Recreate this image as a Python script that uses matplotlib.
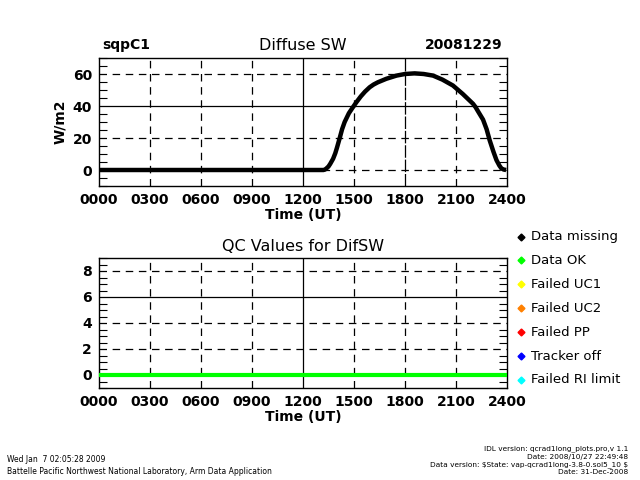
import matplotlib
matplotlib.use("Agg")
import matplotlib.pyplot as plt
from matplotlib.ticker import MultipleLocator

# diffuse SW (W/m2) vs time of day (hours UT)
dif_hours = [0.0, 6.0, 12.0, 13.2, 13.3, 13.38, 13.5, 13.6, 13.77, 13.9, 14.0, 14.16, 14.3,
             14.45, 14.7, 14.94, 15.15, 15.4, 15.65, 15.92, 16.15, 16.4, 16.9, 17.5,
             18.0, 18.57, 19.1, 19.65, 20.2, 20.82, 21.4, 22.0, 22.15, 22.3, 22.59,
             22.8, 22.98, 23.2, 23.38, 23.55, 23.67, 23.8, 23.95]
dif_values = [0.0, 0.0, 0.0, 0.0, 0.3, 1.0, 2.2, 3.8, 7.0, 10.5, 14.0, 20.0, 25.5,
              30.0, 35.5, 39.3, 42.5, 46.0, 49.0, 51.7, 53.4, 54.8, 57.0, 59.0,
              60.0, 60.4, 60.0, 59.0, 56.5, 52.8, 47.5, 41.4, 39.3, 36.6, 31.5,
              25.5, 18.6, 11.5, 6.2, 2.8, 1.0, 0.3, 0.0]

qc_hours = [0.0, 24.0]
qc_values = [0, 0]

xticks = [0, 3, 6, 9, 12, 15, 18, 21, 24]
xlabels = ["0000", "0300", "0600", "0900", "1200", "1500", "1800", "2100", "2400"]

legend_names = ["Data missing", "Data OK", "Failed UC1", "Failed UC2",
                "Failed PP", "Tracker off", "Failed RI limit"]
legend_colors = ["#000000", "#00ff00", "#ffff00", "#ff8000", "#ff0000",
                 "#0000ff", "#00ffff"]

plt.rcParams['font.family'] = ['DejaVu Sans']

fig = plt.figure(figsize=(6.4, 4.8), dpi=100)
W, H = 640.0, 480.0

def make_axes(top, bottom):
    return fig.add_axes([99 / W, 1 - bottom / H, 408 / W, (bottom - top) / H])

def style_axes(ax, ymin, ymax, yticks, minor, solid_y, dashed_x_long):
    ax.set_xlim(0, 24)
    ax.set_ylim(ymin, ymax)
    ax.set_xticks(xticks)
    ax.set_xticklabels(xlabels, fontsize=10, fontweight='bold')
    ax.set_yticks(yticks)
    ax.set_yticklabels([str(v) for v in yticks], fontsize=10, fontweight='bold')
    ax.yaxis.set_minor_locator(MultipleLocator(minor))
    ax.tick_params(axis='both', which='major', length=0, pad=5)
    ax.tick_params(axis='y', which='minor', length=6, direction='in',
                   left=True, right=True, width=0.8)
    ax.tick_params(axis='x', which='minor', length=0)
    for sp in ax.spines.values():
        sp.set_linewidth(1.0)
    # grid lines drawn as IDL-style full-length ticks
    for x in xticks[1:-1]:
        if x == 12:
            ax.axvline(x, color='k', lw=0.9, zorder=1)
        elif x == 18 and dashed_x_long:
            ax.axvline(x, color='k', lw=0.9, dashes=(10, 1.5), zorder=1)
        else:
            ax.axvline(x, color='k', lw=0.9, dashes=(6, 4.5), zorder=1)
    for y in yticks:
        if y == solid_y:
            ax.axhline(y, color='k', lw=0.9, zorder=1)
        else:
            ax.axhline(y, color='k', lw=0.9, dashes=(6, 4.5), zorder=1)

# upper panel
ax1 = make_axes(58, 186)
ax1.plot(dif_hours, dif_values, color='k', lw=3.2, solid_capstyle='butt', zorder=3)
style_axes(ax1, -10, 70, [0, 20, 40, 60], 5, 40, True)
ax1.set_ylabel("W/m2", fontsize=10, fontweight='bold', labelpad=4)
ax1.set_xlabel("Time (UT)", fontsize=10, fontweight='bold', labelpad=1)

fig.text(303 / W, 1 - 45 / H, "Diffuse SW", fontsize=11.5, ha='center', va='center')
fig.text(102 / W, 1 - 45 / H, "sqpC1", fontsize=10, fontweight='bold', ha='left', va='center')
fig.text(502 / W, 1 - 45 / H, "20081229", fontsize=10, fontweight='bold', ha='right', va='center')

# lower panel
ax2 = make_axes(258, 388)
ax2.plot(qc_hours, qc_values, color='#00ff00', lw=3.0, solid_capstyle='butt', zorder=3)
style_axes(ax2, -1, 9, [0, 2, 4, 6, 8], 0.5, 6, False)
ax2.set_xlabel("Time (UT)", fontsize=10, fontweight='bold', labelpad=1)
fig.text(303 / W, 1 - 247 / H, "QC Values for DifSW", fontsize=11.5, ha='center', va='center')

# legend
for i, (name, col) in enumerate(zip(legend_names, legend_colors)):
    yy = 1 - (236.5 + i * 23.9) / H
    fig.lines.append(plt.Line2D([521 / W], [yy], marker='D', markersize=3.5,
                                color=col, transform=fig.transFigure))
    fig.text(531 / W, yy, name, fontsize=9.5, ha='left', va='center')

# footer
fig.text(7 / W, 1 - 459 / H, "Wed Jan  7 02:05:28 2009", fontsize=5.5, ha='left', va='center')
fig.text(7 / W, 1 - 472 / H,
         "Battelle Pacific Northwest National Laboratory, Arm Data Application",
         fontsize=5.5, ha='left', va='center')
right_lines = ["IDL version: qcrad1long_plots.pro,v 1.1",
               "Date: 2008/10/27 22:49:48",
               "Data version: \\$State: vap-qcrad1long-3.8-0.sol5_10 \\$",
               "Date: 31-Dec-2008"]
for i, line in enumerate(right_lines):
    fig.text(628 / W, 1 - (449 + i * 7.8) / H, line, fontsize=5.3, ha='right', va='center')

fig.savefig("out.png", dpi=100)
